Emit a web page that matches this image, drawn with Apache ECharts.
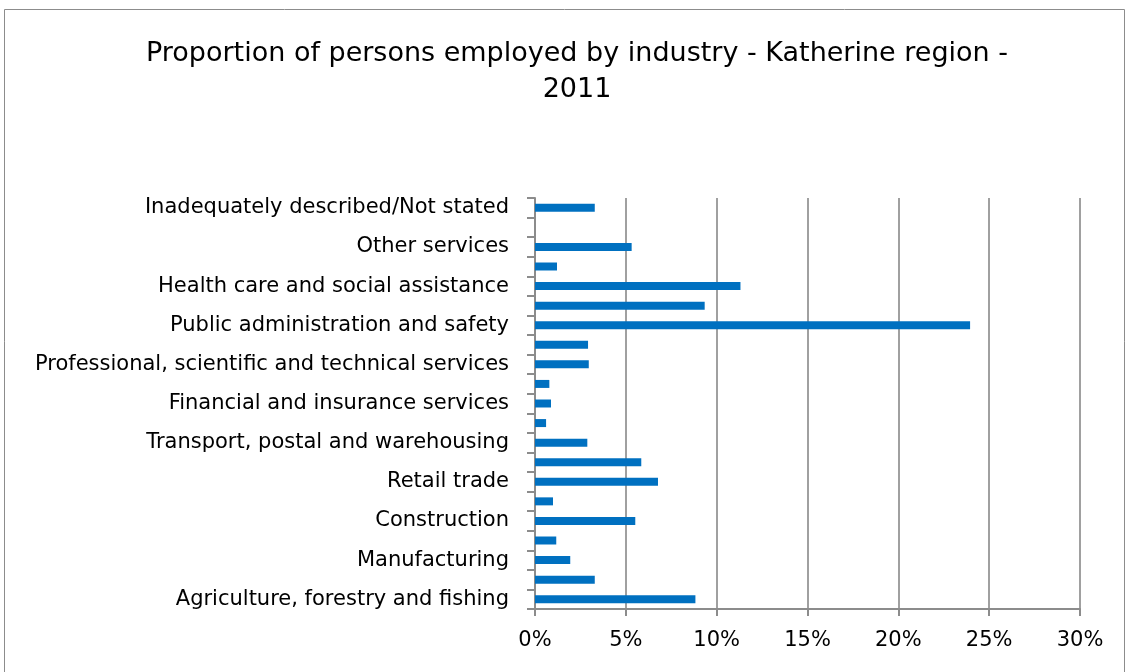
<!DOCTYPE html>
<html>
<head>
<meta charset="utf-8">
<script src="https://cdn.jsdelivr.net/npm/echarts@6/dist/echarts.min.js"></script>
<style>
html, body { margin: 0; padding: 0; background: #fff; }
#chart { width: 1132px; height: 672px; }
</style>
</head>
<body>
<div id="chart"></div>
<script>
// categories bottom to top
var industries = [
  "Agriculture, forestry and fishing",
  "Mining",
  "Manufacturing",
  "Electricity, gas, water and waste services",
  "Construction",
  "Wholesale trade",
  "Retail trade",
  "Accommodation and food services",
  "Transport, postal and warehousing",
  "Information media and telecommunications",
  "Financial and insurance services",
  "Rental, hiring and real estate services",
  "Professional, scientific and technical services",
  "Administrative and support services",
  "Public administration and safety",
  "Education and training",
  "Health care and social assistance",
  "Arts and recreation services",
  "Other services",
  "Not classified",
  "Inadequately described/Not stated"
];
// percent of persons employed
var shares = [8.83, 3.29, 1.94, 1.17, 5.52, 0.99, 6.77, 5.85, 2.88, 0.61,
  0.88, 0.79, 2.96, 2.92, 23.95, 9.34, 11.31, 1.21, 5.32, 0, 3.29];
var xTicks = [0, 5, 10, 15, 20, 25, 30];

var font = "'DejaVu Sans', sans-serif";
var chart = echarts.init(document.getElementById('chart'), null, {renderer: 'canvas'});
var option = {
  animation: false,
  title: {
    text: "Proportion of persons employed by industry - Katherine region -\n2011",
    left: 572,
    textAlign: 'center',
    top: 31,
    textStyle: {
      fontFamily: font,
      fontSize: 27,
      fontWeight: 'normal',
      color: '#000',
      lineHeight: 36
    }
  },
  graphic: [{
    type: 'rect',
    shape: {x: 4.5, y: 9.5, width: 1120, height: 700},
    style: {fill: 'none', stroke: '#8c8c8c', lineWidth: 1}
  }],
  grid: {left: 535, right: 52, top: 198, bottom: 63},
  xAxis: {
    type: 'value',
    min: xTicks[0],
    max: xTicks[xTicks.length - 1],
    interval: 5,
    axisLine: {show: true, lineStyle: {color: '#8c8c8c', width: 2}},
    axisTick: {show: true, length: 7, lineStyle: {color: '#8c8c8c', width: 2}},
    splitLine: {show: true, lineStyle: {color: '#a0a0a0', width: 2}},
    axisLabel: {
      formatter: '{value}%',
      margin: 21,
      fontFamily: font,
      fontSize: 21,
      color: '#000'
    }
  },
  yAxis: {
    type: 'category',
    data: industries,
    axisLine: {show: true, lineStyle: {color: '#8c8c8c', width: 2}},
    axisTick: {show: true, length: 8, interval: 0, lineStyle: {color: '#8c8c8c', width: 2}},
    splitLine: {show: false},
    axisLabel: {
      interval: function (i) { return i % 2 === 0; },
      margin: 26,
      fontFamily: font,
      fontSize: 21,
      color: '#000'
    }
  },
  series: [{
    type: 'bar',
    data: shares,
    barWidth: 8,
    itemStyle: {color: '#0070c0'}
  }]
};
chart.setOption(option);
</script>
</body>
</html>
